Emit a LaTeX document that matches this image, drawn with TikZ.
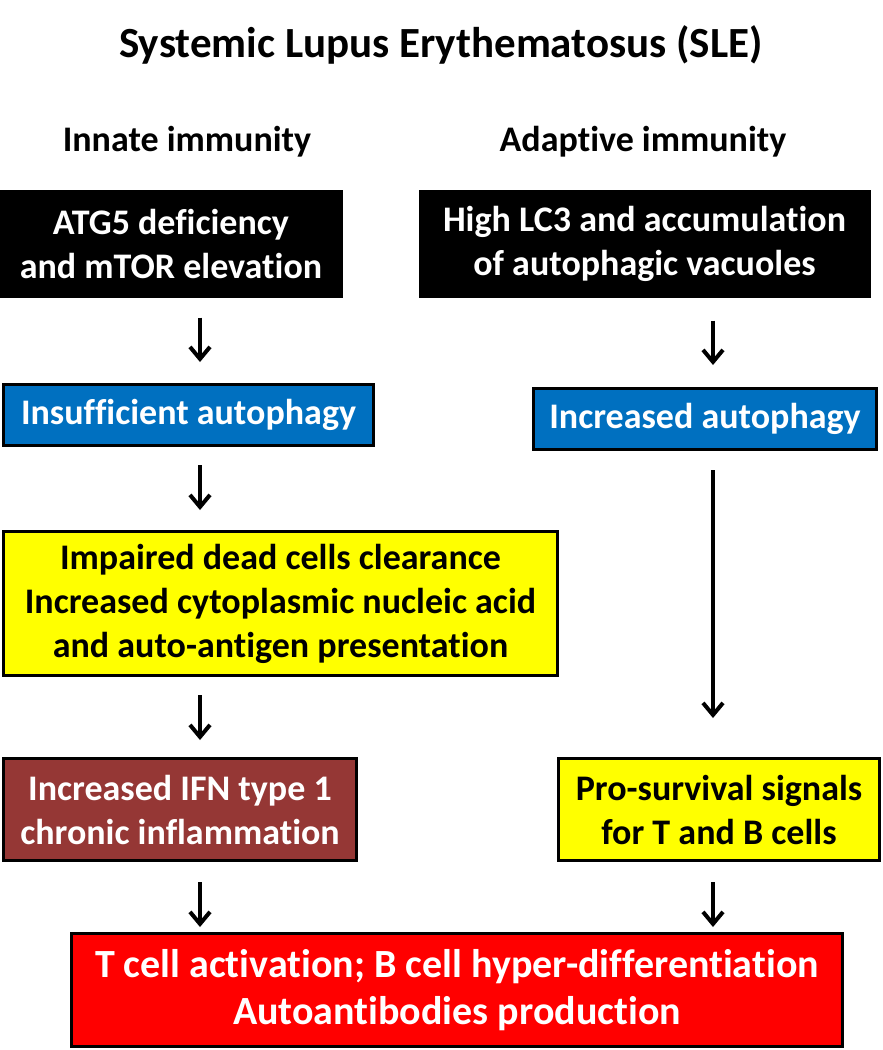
\documentclass[tikz,border=0pt]{standalone}
\usepackage{fontspec}
\setmainfont{Carlito}[Ligatures=NoCommon]
\usetikzlibrary{arrows.meta}
\definecolor{boxblue}{HTML}{0070C0}
\definecolor{boxyellow}{HTML}{FFFF00}
\definecolor{boxbrown}{HTML}{953735}
\definecolor{boxred}{HTML}{FF0000}
\tikzstyle{txt}=[font=\fontsize{36}{44}\selectfont\bfseries, align=center, inner sep=0pt]
\tikzstyle{box}=[txt, draw=black, line width=3pt, rectangle]
\tikzstyle{flow}=[->, line width=3.5pt, >={Straight Barb[length=12pt,width=20pt,line width=4pt]}]

\begin{document}
\begin{tikzpicture}[x=1pt,y=-1pt]
\useasboundingbox (0,0) rectangle (883,1050);
\coordinate (c1) at (200,0);
\coordinate (c2) at (713,0);
\node[txt, font=\fontsize{43}{50}\selectfont\bfseries] (title) at (441,45) {Systemic Lupus Erythematosus (SLE)};
\node[txt] (innate) at (187,142) {Innate immunity};
\node[txt] (adaptive) at (643,142) {Adaptive immunity};
\node[box, fill=black, text=white, minimum width=340pt, minimum height=105pt] (atg) at (171,243.5) {ATG5 deficiency\\and mTOR elevation};
\node[box, fill=black, text=white, minimum width=449pt, minimum height=105pt] (lc3) at (644.5,243.5) {High LC3 and accumulation\\of autophagic vacuoles};
\node[box, fill=boxblue, text=white, minimum width=370pt, minimum height=61pt] (insuf) at (188.5,415) {Insufficient autophagy};
\node[box, fill=boxblue, text=white, minimum width=343pt, minimum height=61pt] (incr) at (705,419) {Increased autophagy};
\node[box, fill=boxyellow, minimum width=554pt, minimum height=144pt] (impaired) at (280.5,603.5) {Impaired dead cells clearance\\Increased cytoplasmic nucleic acid\\and auto-antigen presentation};
\node[box, fill=boxbrown, text=white, minimum width=353pt, minimum height=102pt] (ifn) at (180,809.5) {Increased IFN type 1\\chronic inflammation};
\node[box, fill=boxyellow, minimum width=321pt, minimum height=102pt] (prosurv) at (719,809.5) {Pro-survival signals\\for T and B cells};
\node[box, fill=boxred, text=white, minimum width=771pt, minimum height=113pt, font=\fontsize{40}{47}\selectfont\bfseries] (tcell) at (457,990) {T cell activation; B cell hyper-differentiation\\Autoantibodies production};
% innate side
\draw[flow, shorten <=20pt, shorten >=21pt] (atg.south -| c1) -- (insuf.north -| c1);
\draw[flow, shorten <=18pt, shorten >=20pt] (insuf.south -| c1) -- (impaired.north -| c1);
\draw[flow, shorten <=18pt, shorten >=17pt] (impaired.south -| c1) -- (ifn.north -| c1);
\draw[flow, shorten <=20pt, shorten >=5pt] (ifn.south -| c1) -- (tcell.north -| c1);
% adaptive side
\draw[flow, shorten <=23pt, shorten >=22pt] (lc3.south -| c2) -- (incr.north -| c2);
\draw[flow, shorten <=19pt, shorten >=39pt] (incr.south -| c2) -- (prosurv.north -| c2);
\draw[flow, shorten <=20pt, shorten >=5pt] (prosurv.south -| c2) -- (tcell.north -| c2);
\end{tikzpicture}
\end{document}
